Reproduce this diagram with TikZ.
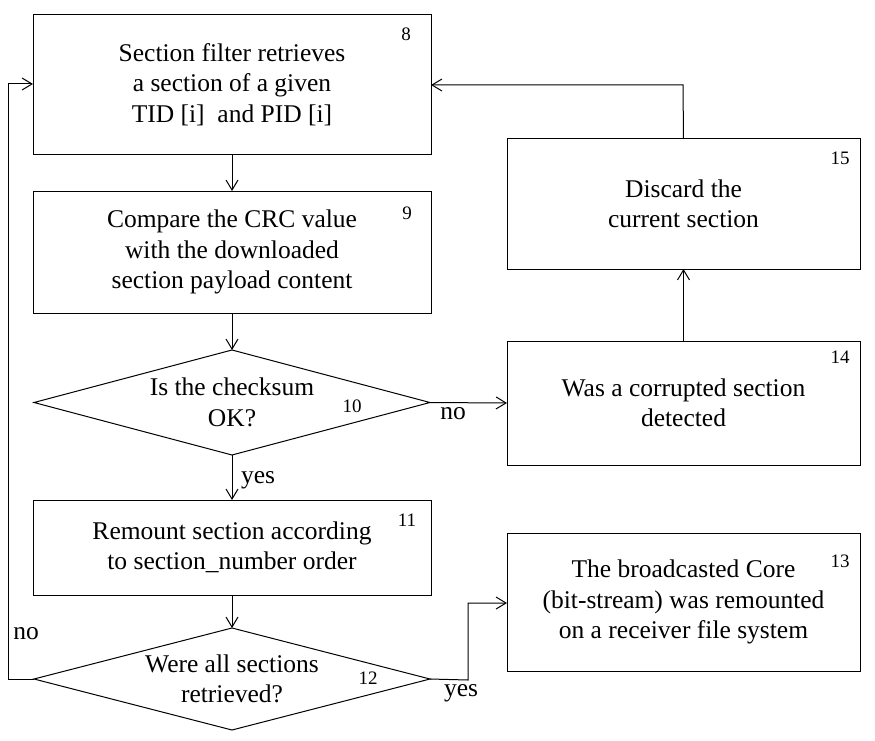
\documentclass[tikz,border=0pt]{standalone}
\usepackage{fontspec}
\setmainfont{Liberation Serif}
\usetikzlibrary{shapes.geometric,arrows.meta}
\begin{document}
\begin{tikzpicture}[x=1pt,y=-1pt,
  every node/.style={inner sep=0pt, outer sep=0pt},
  txt/.style={font=\fontsize{25.5}{30.5}\selectfont, align=center},
  procbox/.style={draw, line width=1pt, txt},
  decision/.style={draw, line width=1pt, diamond, txt, shape aspect=3.77},
  num/.style={font=\fontsize{19}{21}\selectfont},
  lbl/.style={font=\fontsize{25.5}{30}\selectfont},
  conn/.style={draw, line width=1pt, -{Straight Barb[length=10pt,width=12pt]}}
]
\useasboundingbox (0,0) rectangle (875,741);
% boxes
\node[procbox, minimum width=398pt, minimum height=139pt] (b8) at (232,84.5)
  {Section filter retrieves\\a section of a given\\TID [i]\ \ and PID [i]};
\node[procbox, minimum width=398pt, minimum height=122pt] (b9) at (232,252)
  {Compare the CRC value\\with the downloaded\\section payload content};
\node[decision, minimum width=396pt, minimum height=105pt] (d10) at (232,402.5)
  {Is the checksum\\OK?};
\node[procbox, minimum width=398pt, minimum height=95pt] (b11) at (232,547.5)
  {Remount section according\\to section\_number order};
\node[decision, minimum width=396pt, minimum height=102pt] (d12) at (232,679)
  {Were all sections\\retrieved?};
\node[procbox, minimum width=353pt, minimum height=138pt] (b13) at (683.5,602)
  {The broadcasted Core\\(bit-stream) was remounted\\on a receiver file system};
\node[procbox, minimum width=353pt, minimum height=124pt] (b14) at (683.5,403)
  {Was a corrupted section\\detected};
\node[procbox, minimum width=353pt, minimum height=130pt] (b15) at (683.5,204)
  {Discard the\\current section};
% numbers
\node[num] (n8) at (406,34) {8};
\node[num] (n9) at (407,213) {9};
\node[num] (n10) at (352,406) {10};
\node[num] (n11) at (407,520) {11};
\node[num] (n12) at (368,678) {12};
\node[num] (n13) at (840,561) {13};
\node[num] (n14) at (840,357) {14};
\node[num] (n15) at (840,158) {15};
% coordinates
\coordinate (c15t) at (683,85);
\coordinate (c12r) at (468,680);
\coordinate (c12u) at (468,603);
\coordinate (c12l) at (8,679);
\coordinate (c12lu) at (8,84);
% connectors
\draw[conn] (b8.south) -- (b9.north);
\draw[conn] (b9.south) -- (d10.north);
\draw[conn] (d10.south) -- node[lbl, anchor=west, xshift=9pt, yshift=-3pt] (lyes1) {yes} (b11.north);
\draw[conn] (d10.east) -- node[lbl, anchor=north, pos=0.3, yshift=-5pt] (lno1) {no} (b14.west);
\draw[conn] (b14.north) -- (b15.south);
\draw[conn] (b15.north) -- (c15t) -- (b8.east |- c15t);
\draw[conn] (b11.south) -- (d12.north);
\draw[conn] (d12.east) -- (c12r) -- (c12u) -- (b13.west |- c12u);
\node[lbl] (lyes2) at (461,693) {yes};
\draw[conn] (d12.west) -- (c12l) -- (c12lu) -- (b8.west |- c12lu);
\node[lbl] (lno2) at (26,634) {no};
\end{tikzpicture}
\end{document}
